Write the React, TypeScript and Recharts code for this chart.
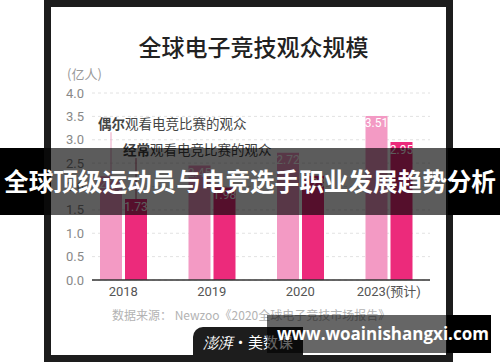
import React from "react";
import { Bar, BarChart, CartesianGrid, LabelList, XAxis, YAxis } from "recharts";

const categories = ["2018", "2019", "2020", "2023(预计)"];
const occasionalViewers = [2.22, 2.45, 2.72, 3.51];
const enthusiastViewers = [1.73, 1.98, 2.23, 2.95];
const yTicks = [0, 0.5, 1, 1.5, 2, 2.5, 3, 3.5, 4];

const data = categories.map((year, i) => ({
  year,
  occasional: occasionalViewers[i],
  enthusiast: enthusiastViewers[i],
}));

const LIGHT = "#f39ac4";
const DARK = "#ec2a7b";
const CJK = "'Noto Sans CJK SC', 'Noto Sans', sans-serif";
const NUM = "Roboto, 'Noto Sans CJK SC', sans-serif";

function Callout(props: any) {
  const { x, y, width, index, bold, rest, color, lineLen, textUp } = props;
  if (index !== 0) return null;
  const cx = x + width / 2;
  return (
    <g>
      <line x1={cx} x2={cx} y1={y} y2={y - lineLen} stroke={color} strokeWidth={1} />
      <text
        x={x - 2}
        y={y - textUp}
        dominantBaseline="middle"
        fontSize={13.5}
        fill="#444"
        fontFamily={CJK}
      >
        <tspan fontWeight={700}>{bold}</tspan>
        <tspan>{rest}</tspan>
      </text>
    </g>
  );
}

const abs = (s: React.CSSProperties): React.CSSProperties => ({ position: "absolute", ...s });

export default function App() {
  return (
    <div style={abs({ left: 0, top: 0, width: 500, height: 362, background: "#fff", overflow: "hidden", fontFamily: CJK })}>
      <div style={abs({ left: 44, top: 0, width: 409, height: 362, background: "#1d1d1d" })} />
      <div style={abs({ left: 51, top: 7, width: 395, height: 348, background: "#fff" })} />
      <div
        style={abs({
          left: 0,
          width: 507,
          top: 32,
          textAlign: "center",
          fontSize: 23,
          fontWeight: 500,
          color: "#222",
          lineHeight: "28px",
        })}
      >
        全球电子竞技观众规模
      </div>
      <div style={abs({ left: 67, top: 65, fontSize: 13, color: "#999", lineHeight: "18px" })}>(亿人)</div>

      <div style={abs({ left: 0, top: 0 })}>
        <BarChart
          width={500}
          height={362}
          data={data}
          margin={{ top: 93, right: 70, bottom: 52, left: 0 }}
          barGap={3}
          barSize={22}
        >
          <CartesianGrid vertical={false} strokeDasharray="3 3" stroke="#e2e2e2" />
          <XAxis
            dataKey="year"
            interval={0}
            tickLine={false}
            tickSize={0}
            tickMargin={7}
            height={30}
            padding={{ left: -13, right: -3 }}
            axisLine={{ stroke: "#333", strokeWidth: 1.5 }}
            tick={{ fill: "#555", fontSize: 13, fontFamily: NUM }}
          />
          <YAxis
            width={92}
            domain={[0, 4]}
            ticks={yTicks}
            tickFormatter={(v: number) => v.toFixed(1)}
            axisLine={false}
            tickLine={false}
            tickSize={0}
            tickMargin={8}
            tick={{ fill: "#888", fontSize: 13, fontFamily: NUM }}
          />
          <Bar dataKey="occasional" fill={LIGHT} isAnimationActive={false}>
            <LabelList
              dataKey="occasional"
              position="insideTop"
              offset={3}
              fill="#fff"
              fontSize={12}
              fontFamily={NUM}
              formatter={(v: any) => Number(v).toFixed(2)}
            />
            <LabelList
              dataKey="occasional"
              content={(p: any) => (
                <Callout {...p} bold="偶尔" rest="观看电竞比赛的观众" color="#e9a3c2" lineLen={44} textUp={51} />
              )}
            />
          </Bar>
          <Bar dataKey="enthusiast" fill={DARK} isAnimationActive={false}>
            <LabelList
              dataKey="enthusiast"
              position="insideTop"
              offset={3}
              fill="#fff"
              fontSize={12}
              fontFamily={NUM}
              formatter={(v: any) => Number(v).toFixed(2)}
            />
            <LabelList
              dataKey="enthusiast"
              content={(p: any) => (
                <Callout {...p} bold="经常" rest="观看电竞比赛的观众" color="#b0506e" lineLen={41} textUp={48} />
              )}
            />
          </Bar>
        </BarChart>
      </div>

      <div style={abs({ left: 112, top: 306, fontSize: 12, color: "#b3b3b3", lineHeight: "18px", whiteSpace: "nowrap" })}>
        数据来源： Newzoo《2020全球电子竞技市场报告》
      </div>

      {/* banner */}
      <div style={abs({ left: 0, top: 148, width: 44, height: 67, background: "#000" })} />
      <div style={abs({ left: 448, top: 148, width: 52, height: 67, background: "#000" })} />
      <div style={abs({ left: 44, top: 148, width: 404, height: 67, background: "rgba(0,0,0,0.64)" })} />
      <div
        style={abs({
          left: 0,
          top: 148,
          width: 500,
          height: 64,
          lineHeight: "64px",
          textAlign: "center",
          color: "#fff",
          fontSize: 24.6,
          fontWeight: 700,
          whiteSpace: "nowrap",
        })}
      >
        全球顶级运动员与电竞选手职业发展趋势分析
      </div>

      {/* bottom tab */}
      <div
        style={abs({
          left: 193,
          top: 327,
          width: 110,
          height: 35,
          background: "#1d1d1d",
          borderTopLeftRadius: 10,
        })}
      />
      <div style={abs({ left: 203, top: 332, fontSize: 15, color: "#fff", lineHeight: "20px", whiteSpace: "nowrap" })}>
        <span style={{ fontFamily: "serif", fontStyle: "italic" }}>澎湃</span>·美数课
      </div>

      {/* watermark */}
      <div style={abs({ left: 447, top: 315, width: 44, height: 38, background: "#000" })} />
      <div style={abs({ left: 267, top: 315, width: 180, height: 38, background: "rgba(0,0,0,0.6)" })} />
      <div
        style={abs({
          left: 277,
          top: 315,
          height: 38,
          lineHeight: "38px",
          color: "#fff",
          fontSize: 17,
          fontWeight: 700,
          fontFamily: "'Open Sans', sans-serif",
          whiteSpace: "nowrap",
        })}
      >
        www.woainishangxi.com
      </div>
    </div>
  );
}
